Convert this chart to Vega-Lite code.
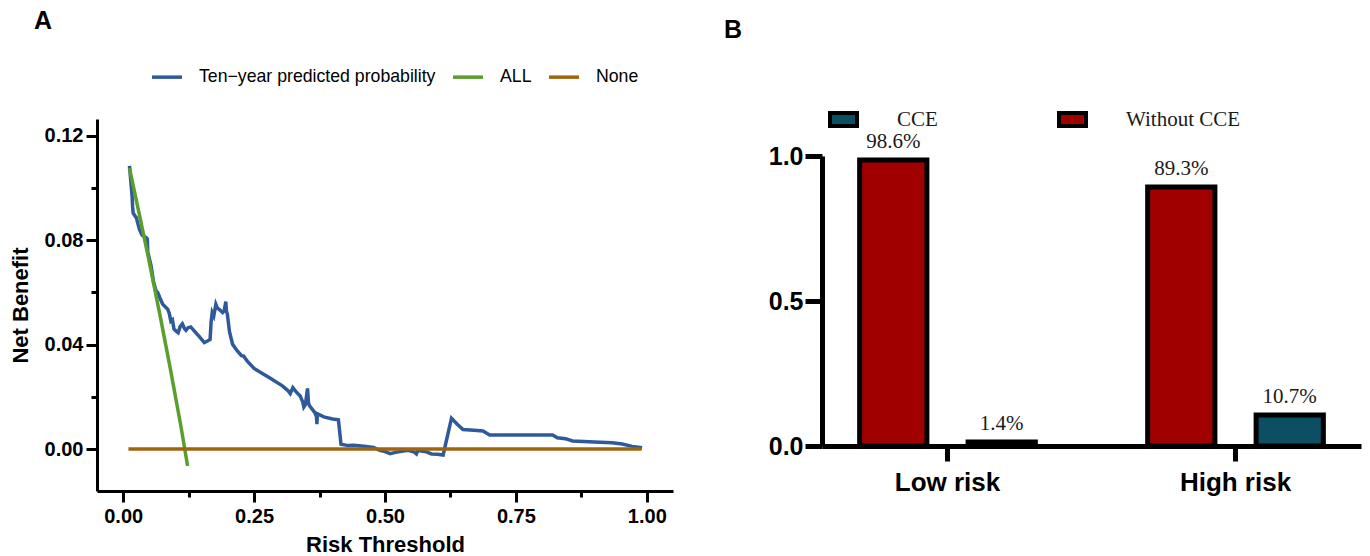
{
  "$schema": "https://vega.github.io/schema/vega-lite/v6.json",
  "background": "white",
  "padding": {"left": 9, "top": 9, "right": 8, "bottom": 8},
  "spacing": 51,
  "config": {"view": {"stroke": null}, "font": "Liberation Sans"},
  "resolve": {"scale": {"color": "independent"}, "legend": {"color": "independent"}},
  "hconcat": [
    {
      "width": 576,
      "height": 372,
      "title": {"text": "A", "anchor": "start", "frame": "group", "dx": -63, "offset": 26, "fontSize": 25, "fontWeight": "bold", "font": "Liberation Sans", "color": "black"},
      "data": {"values": [
        {"model": "Ten−year predicted probability", "threshold": 0.012, "net_benefit": 0.1085},
        {"model": "Ten−year predicted probability", "threshold": 0.014, "net_benefit": 0.104},
        {"model": "Ten−year predicted probability", "threshold": 0.017, "net_benefit": 0.097},
        {"model": "Ten−year predicted probability", "threshold": 0.018, "net_benefit": 0.093},
        {"model": "Ten−year predicted probability", "threshold": 0.019, "net_benefit": 0.0905},
        {"model": "Ten−year predicted probability", "threshold": 0.022, "net_benefit": 0.0895},
        {"model": "Ten−year predicted probability", "threshold": 0.025, "net_benefit": 0.0887},
        {"model": "Ten−year predicted probability", "threshold": 0.031, "net_benefit": 0.0842},
        {"model": "Ten−year predicted probability", "threshold": 0.036, "net_benefit": 0.082},
        {"model": "Ten−year predicted probability", "threshold": 0.040, "net_benefit": 0.0815},
        {"model": "Ten−year predicted probability", "threshold": 0.044, "net_benefit": 0.081},
        {"model": "Ten−year predicted probability", "threshold": 0.046, "net_benefit": 0.0805},
        {"model": "Ten−year predicted probability", "threshold": 0.047, "net_benefit": 0.0755},
        {"model": "Ten−year predicted probability", "threshold": 0.050, "net_benefit": 0.073},
        {"model": "Ten−year predicted probability", "threshold": 0.053, "net_benefit": 0.0705},
        {"model": "Ten−year predicted probability", "threshold": 0.058, "net_benefit": 0.064},
        {"model": "Ten−year predicted probability", "threshold": 0.063, "net_benefit": 0.0605},
        {"model": "Ten−year predicted probability", "threshold": 0.066, "net_benefit": 0.060},
        {"model": "Ten−year predicted probability", "threshold": 0.070, "net_benefit": 0.058},
        {"model": "Ten−year predicted probability", "threshold": 0.0755, "net_benefit": 0.0555},
        {"model": "Ten−year predicted probability", "threshold": 0.085, "net_benefit": 0.0536},
        {"model": "Ten−year predicted probability", "threshold": 0.088, "net_benefit": 0.052},
        {"model": "Ten−year predicted probability", "threshold": 0.091, "net_benefit": 0.049},
        {"model": "Ten−year predicted probability", "threshold": 0.094, "net_benefit": 0.0495},
        {"model": "Ten−year predicted probability", "threshold": 0.097, "net_benefit": 0.046},
        {"model": "Ten−year predicted probability", "threshold": 0.101, "net_benefit": 0.0452},
        {"model": "Ten−year predicted probability", "threshold": 0.105, "net_benefit": 0.0446},
        {"model": "Ten−year predicted probability", "threshold": 0.109, "net_benefit": 0.047},
        {"model": "Ten−year predicted probability", "threshold": 0.113, "net_benefit": 0.048},
        {"model": "Ten−year predicted probability", "threshold": 0.117, "net_benefit": 0.0462},
        {"model": "Ten−year predicted probability", "threshold": 0.120, "net_benefit": 0.0455},
        {"model": "Ten−year predicted probability", "threshold": 0.124, "net_benefit": 0.0465},
        {"model": "Ten−year predicted probability", "threshold": 0.129, "net_benefit": 0.0468},
        {"model": "Ten−year predicted probability", "threshold": 0.136, "net_benefit": 0.0452},
        {"model": "Ten−year predicted probability", "threshold": 0.145, "net_benefit": 0.0432},
        {"model": "Ten−year predicted probability", "threshold": 0.155, "net_benefit": 0.0408},
        {"model": "Ten−year predicted probability", "threshold": 0.161, "net_benefit": 0.0414},
        {"model": "Ten−year predicted probability", "threshold": 0.166, "net_benefit": 0.042},
        {"model": "Ten−year predicted probability", "threshold": 0.168, "net_benefit": 0.049},
        {"model": "Ten−year predicted probability", "threshold": 0.170, "net_benefit": 0.0523},
        {"model": "Ten−year predicted probability", "threshold": 0.173, "net_benefit": 0.051},
        {"model": "Ten−year predicted probability", "threshold": 0.177, "net_benefit": 0.0555},
        {"model": "Ten−year predicted probability", "threshold": 0.180, "net_benefit": 0.054},
        {"model": "Ten−year predicted probability", "threshold": 0.183, "net_benefit": 0.0536},
        {"model": "Ten−year predicted probability", "threshold": 0.190, "net_benefit": 0.0523},
        {"model": "Ten−year predicted probability", "threshold": 0.193, "net_benefit": 0.053},
        {"model": "Ten−year predicted probability", "threshold": 0.196, "net_benefit": 0.0565},
        {"model": "Ten−year predicted probability", "threshold": 0.197, "net_benefit": 0.053},
        {"model": "Ten−year predicted probability", "threshold": 0.199, "net_benefit": 0.0516},
        {"model": "Ten−year predicted probability", "threshold": 0.203, "net_benefit": 0.045},
        {"model": "Ten−year predicted probability", "threshold": 0.209, "net_benefit": 0.0401},
        {"model": "Ten−year predicted probability", "threshold": 0.218, "net_benefit": 0.0376},
        {"model": "Ten−year predicted probability", "threshold": 0.226, "net_benefit": 0.0358},
        {"model": "Ten−year predicted probability", "threshold": 0.230, "net_benefit": 0.0356},
        {"model": "Ten−year predicted probability", "threshold": 0.237, "net_benefit": 0.0337},
        {"model": "Ten−year predicted probability", "threshold": 0.250, "net_benefit": 0.0309},
        {"model": "Ten−year predicted probability", "threshold": 0.265, "net_benefit": 0.029},
        {"model": "Ten−year predicted probability", "threshold": 0.281, "net_benefit": 0.0271},
        {"model": "Ten−year predicted probability", "threshold": 0.304, "net_benefit": 0.0242},
        {"model": "Ten−year predicted probability", "threshold": 0.314, "net_benefit": 0.0225},
        {"model": "Ten−year predicted probability", "threshold": 0.319, "net_benefit": 0.0212},
        {"model": "Ten−year predicted probability", "threshold": 0.324, "net_benefit": 0.0235},
        {"model": "Ten−year predicted probability", "threshold": 0.330, "net_benefit": 0.022},
        {"model": "Ten−year predicted probability", "threshold": 0.338, "net_benefit": 0.0203},
        {"model": "Ten−year predicted probability", "threshold": 0.343, "net_benefit": 0.018},
        {"model": "Ten−year predicted probability", "threshold": 0.345, "net_benefit": 0.0161},
        {"model": "Ten−year predicted probability", "threshold": 0.348, "net_benefit": 0.017},
        {"model": "Ten−year predicted probability", "threshold": 0.352, "net_benefit": 0.0232},
        {"model": "Ten−year predicted probability", "threshold": 0.354, "net_benefit": 0.0175},
        {"model": "Ten−year predicted probability", "threshold": 0.356, "net_benefit": 0.0165},
        {"model": "Ten−year predicted probability", "threshold": 0.362, "net_benefit": 0.015},
        {"model": "Ten−year predicted probability", "threshold": 0.366, "net_benefit": 0.0139},
        {"model": "Ten−year predicted probability", "threshold": 0.369, "net_benefit": 0.0125},
        {"model": "Ten−year predicted probability", "threshold": 0.370, "net_benefit": 0.0095},
        {"model": "Ten−year predicted probability", "threshold": 0.371, "net_benefit": 0.0135},
        {"model": "Ten−year predicted probability", "threshold": 0.383, "net_benefit": 0.0123},
        {"model": "Ten−year predicted probability", "threshold": 0.400, "net_benefit": 0.0115},
        {"model": "Ten−year predicted probability", "threshold": 0.411, "net_benefit": 0.0112},
        {"model": "Ten−year predicted probability", "threshold": 0.416, "net_benefit": 0.0018},
        {"model": "Ten−year predicted probability", "threshold": 0.430, "net_benefit": 0.0013},
        {"model": "Ten−year predicted probability", "threshold": 0.440, "net_benefit": 0.0014},
        {"model": "Ten−year predicted probability", "threshold": 0.460, "net_benefit": 0.0011},
        {"model": "Ten−year predicted probability", "threshold": 0.478, "net_benefit": 0.0006},
        {"model": "Ten−year predicted probability", "threshold": 0.490, "net_benefit": -0.0005},
        {"model": "Ten−year predicted probability", "threshold": 0.500, "net_benefit": -0.001},
        {"model": "Ten−year predicted probability", "threshold": 0.510, "net_benefit": -0.0018},
        {"model": "Ten−year predicted probability", "threshold": 0.520, "net_benefit": -0.0013},
        {"model": "Ten−year predicted probability", "threshold": 0.529, "net_benefit": -0.001},
        {"model": "Ten−year predicted probability", "threshold": 0.544, "net_benefit": -0.0005},
        {"model": "Ten−year predicted probability", "threshold": 0.556, "net_benefit": -0.0012},
        {"model": "Ten−year predicted probability", "threshold": 0.560, "net_benefit": -0.0019},
        {"model": "Ten−year predicted probability", "threshold": 0.563, "net_benefit": -0.0005},
        {"model": "Ten−year predicted probability", "threshold": 0.572, "net_benefit": -0.0009},
        {"model": "Ten−year predicted probability", "threshold": 0.579, "net_benefit": -0.0011},
        {"model": "Ten−year predicted probability", "threshold": 0.589, "net_benefit": -0.0019},
        {"model": "Ten−year predicted probability", "threshold": 0.600, "net_benefit": -0.002},
        {"model": "Ten−year predicted probability", "threshold": 0.611, "net_benefit": -0.0023},
        {"model": "Ten−year predicted probability", "threshold": 0.627, "net_benefit": 0.0118},
        {"model": "Ten−year predicted probability", "threshold": 0.638, "net_benefit": 0.0095},
        {"model": "Ten−year predicted probability", "threshold": 0.649, "net_benefit": 0.0075},
        {"model": "Ten−year predicted probability", "threshold": 0.670, "net_benefit": 0.0072},
        {"model": "Ten−year predicted probability", "threshold": 0.687, "net_benefit": 0.0069},
        {"model": "Ten−year predicted probability", "threshold": 0.700, "net_benefit": 0.0054},
        {"model": "Ten−year predicted probability", "threshold": 0.760, "net_benefit": 0.0054},
        {"model": "Ten−year predicted probability", "threshold": 0.820, "net_benefit": 0.0054},
        {"model": "Ten−year predicted probability", "threshold": 0.829, "net_benefit": 0.0043},
        {"model": "Ten−year predicted probability", "threshold": 0.845, "net_benefit": 0.0039},
        {"model": "Ten−year predicted probability", "threshold": 0.852, "net_benefit": 0.0035},
        {"model": "Ten−year predicted probability", "threshold": 0.858, "net_benefit": 0.0031},
        {"model": "Ten−year predicted probability", "threshold": 0.900, "net_benefit": 0.0027},
        {"model": "Ten−year predicted probability", "threshold": 0.934, "net_benefit": 0.0024},
        {"model": "Ten−year predicted probability", "threshold": 0.953, "net_benefit": 0.0019},
        {"model": "Ten−year predicted probability", "threshold": 0.972, "net_benefit": 0.001},
        {"model": "Ten−year predicted probability", "threshold": 0.991, "net_benefit": 0.0005},
        {"model": "ALL", "threshold": 0.012, "net_benefit": 0.1077},
        {"model": "ALL", "threshold": 0.03, "net_benefit": 0.0907},
        {"model": "ALL", "threshold": 0.047, "net_benefit": 0.0745},
        {"model": "ALL", "threshold": 0.07, "net_benefit": 0.0516},
        {"model": "ALL", "threshold": 0.09, "net_benefit": 0.0308},
        {"model": "ALL", "threshold": 0.11, "net_benefit": 0.009},
        {"model": "ALL", "threshold": 0.123, "net_benefit": -0.0065},
        {"model": "None", "threshold": 0.01, "net_benefit": 0},
        {"model": "None", "threshold": 0.99, "net_benefit": 0}
      ]},
      "mark": {"type": "line", "strokeWidth": 3.5, "clip": false},
      "encoding": {
        "x": {
          "field": "threshold", "type": "quantitative",
          "scale": {"domain": [-0.05, 1.05], "nice": false, "zero": false},
          "axis": {
            "values": [0, 0.125, 0.25, 0.375, 0.5, 0.625, 0.75, 0.875, 1],
            "labelExpr": "round(datum.value*8)%2==0 ? format(datum.value,'.2f') : ''",
            "tickSize": {"condition": {"test": "round(datum.value*8)%2==0", "value": 11}, "value": 6},
            "title": "Risk Threshold", "grid": false,
            "domainColor": "black", "domainWidth": 3, "tickColor": "black", "tickWidth": 3,
            "labelFont": "Liberation Sans", "labelFontSize": 20, "labelFontWeight": "bold", "labelColor": "black", "labelPadding": 4, "labelFlush": false,
            "titleFont": "Liberation Sans", "titleFontSize": 22, "titleFontWeight": "bold", "titleColor": "black", "titlePadding": 8
          }
        },
        "y": {
          "field": "net_benefit", "type": "quantitative",
          "scale": {"domain": [-0.0161, 0.1265], "nice": false, "zero": false},
          "axis": {
            "values": [0, 0.02, 0.04, 0.06, 0.08, 0.1, 0.12],
            "labelExpr": "round(datum.value*100)%4==0 ? format(datum.value,'.2f') : ''",
            "tickSize": {"condition": {"test": "round(datum.value*100)%4==0", "value": 11}, "value": 6},
            "title": "Net Benefit", "grid": false,
            "domainColor": "black", "domainWidth": 3, "tickColor": "black", "tickWidth": 3,
            "labelFont": "Liberation Sans", "labelFontSize": 20, "labelFontWeight": "bold", "labelColor": "black", "labelPadding": 3, "labelFlush": false,
            "titleFont": "Liberation Sans", "titleFontSize": 22, "titleFontWeight": "bold", "titleColor": "black", "titlePadding": 12
          }
        },
        "color": {
          "field": "model", "type": "nominal",
          "scale": {"domain": ["Ten−year predicted probability", "ALL", "None"], "range": ["#2E5A9C", "#5A9E2B", "#A0640F"]},
          "legend": {
            "orient": "none", "legendX": 53, "legendY": -59, "direction": "horizontal", "title": null,
            "symbolType": "stroke", "symbolStrokeWidth": 3.5, "symbolSize": 900,
            "labelFont": "Liberation Sans", "labelFontSize": 17.7, "labelColor": "black", "labelOffset": 15,
            "columnPadding": 10, "labelLimit": 400, "padding": 0
          }
        }
      }
    },
    {
      "width": 539,
      "height": 327,
      "title": {"text": "B", "anchor": "start", "frame": "group", "dx": -98, "offset": 61, "fontSize": 25, "fontWeight": "bold", "font": "Liberation Sans", "color": "black"},
      "data": {"values": [
        {"group": "Low risk", "status": "Without CCE", "value": 0.986},
        {"group": "Low risk", "status": "CCE", "value": 0.014},
        {"group": "High risk", "status": "Without CCE", "value": 0.893},
        {"group": "High risk", "status": "CCE", "value": 0.107}
      ]},
      "encoding": {
        "x": {
          "field": "group", "type": "nominal",
          "scale": {"domain": ["Low risk", "High risk"], "paddingInner": 0.39, "paddingOuter": 0.1307},
          "axis": {
            "title": null, "labelAngle": 0, "grid": false,
            "labelFont": "Liberation Sans", "labelFontSize": 26, "labelFontWeight": "bold", "labelColor": "black", "labelPadding": 8,
            "tickSize": 15, "tickWidth": 5, "tickColor": "black", "domainWidth": 5, "domainColor": "black"
          }
        },
        "xOffset": {
          "field": "status", "type": "nominal",
          "scale": {"domain": ["Without CCE", "CCE"], "paddingInner": 0.38, "paddingOuter": 0}
        },
        "y": {
          "field": "value", "type": "quantitative",
          "scale": {"domain": [0, 1], "range": [327, 37], "nice": false, "zero": true},
          "axis": {
            "title": null, "values": [0, 0.5, 1], "format": ".1f", "grid": false,
            "labelFont": "Liberation Sans", "labelFontSize": 25, "labelFontWeight": "bold", "labelColor": "black", "labelPadding": 2,
            "tickSize": 17, "tickWidth": 5, "tickColor": "black", "domainWidth": 5, "domainColor": "black"
          }
        }
      },
      "layer": [
        {
          "mark": {"type": "bar", "stroke": "black", "strokeWidth": 5},
          "encoding": {
            "color": {
              "field": "status", "type": "nominal",
              "scale": {"domain": ["CCE", "Without CCE"], "range": ["#0C4E62", "#A00000"]},
              "legend": {
                "orient": "none", "legendX": 6, "legendY": -15, "direction": "horizontal", "title": null,
                "symbolType": "M-1,-0.48H1V0.48H-1Z", "symbolSize": 729, "symbolStrokeColor": "black", "symbolStrokeWidth": 4, "symbolOpacity": 1,
                "labelFont": "Liberation Serif", "labelFontSize": 21, "labelColor": "#1a1a1a", "labelOffset": 38,
                "columnPadding": 113, "labelLimit": 300, "padding": 0
              }
            }
          }
        },
        {
          "mark": {"type": "text", "baseline": "bottom", "dy": -8, "font": "Liberation Serif", "fontSize": 21, "color": "#1a1a1a"},
          "encoding": {"text": {"field": "value", "type": "quantitative", "format": ".1%"}}
        }
      ]
    }
  ]
}
